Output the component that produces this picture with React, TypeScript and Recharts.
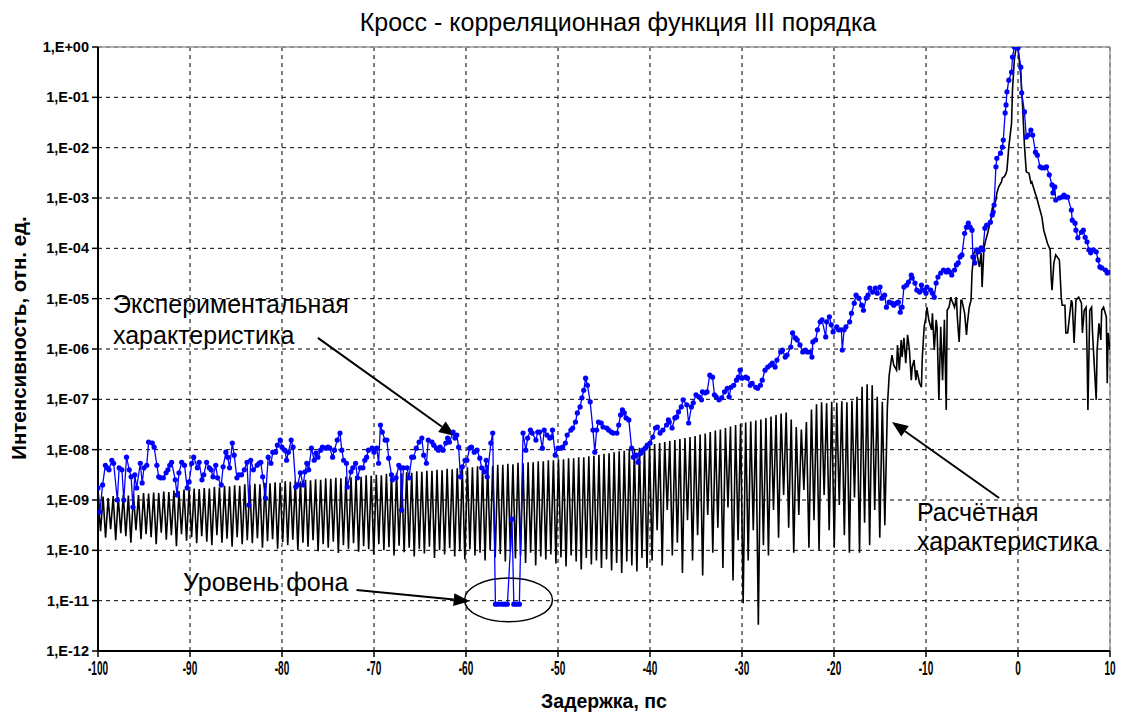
import {
  CartesianGrid,
  Line,
  LineChart,
  ReferenceArea,
  ReferenceLine,
  XAxis,
  YAxis
} from "recharts";

// experimental curve: [delay ps, log10 intensity]
const expPoints: [number, number][] = [
  [-100.0, -8.76], [-99.8, -9.24], [-99.5, -8.7], [-99.2, -8.31], [-99.0, -8.36], [-98.8, -8.4],
  [-98.5, -8.21], [-98.3, -8.27], [-97.9, -9.0], [-97.7, -8.36], [-97.4, -8.4], [-97.2, -9.0],
  [-96.9, -8.15], [-96.6, -8.4], [-96.4, -8.54], [-96.2, -9.14], [-96.0, -8.5], [-95.8, -8.76],
  [-95.4, -8.27], [-95.2, -8.66], [-95.0, -8.36], [-94.7, -8.31], [-94.5, -7.85], [-94.1, -7.87],
  [-93.9, -7.95], [-93.6, -8.31], [-93.4, -8.54], [-93.2, -8.56], [-92.9, -8.56], [-92.6, -8.46],
  [-92.4, -8.4], [-92.2, -8.31], [-92.0, -8.25], [-91.6, -8.6], [-91.4, -8.9], [-91.2, -8.46],
  [-90.9, -8.25], [-90.6, -8.31], [-90.3, -8.76], [-90.1, -8.64], [-89.8, -8.27], [-89.6, -8.15],
  [-89.2, -8.36], [-89.0, -8.25], [-88.7, -8.6], [-88.5, -8.5], [-88.2, -8.25], [-87.9, -8.36],
  [-87.7, -8.4], [-87.5, -8.54], [-87.2, -8.31], [-87.0, -8.56], [-86.6, -8.7], [-86.4, -8.34],
  [-86.1, -8.05], [-85.9, -8.15], [-85.7, -8.36], [-85.4, -7.87], [-85.2, -8.11], [-84.9, -8.56],
  [-84.7, -8.5], [-84.4, -8.5], [-84.1, -8.4], [-83.8, -8.25], [-83.6, -9.1], [-83.4, -8.21],
  [-83.1, -8.4], [-82.7, -8.31], [-82.5, -8.27], [-82.3, -8.25], [-82.1, -8.54], [-81.8, -8.96],
  [-81.5, -8.15], [-81.2, -8.27], [-81.0, -8.05], [-80.7, -8.05], [-80.5, -7.91], [-80.2, -7.81],
  [-80.0, -7.95], [-79.7, -8.01], [-79.5, -8.21], [-79.3, -8.05], [-79.0, -7.81], [-78.8, -7.95],
  [-78.5, -8.74], [-78.3, -8.7], [-78.0, -8.46], [-77.7, -8.7], [-77.5, -8.44], [-77.3, -8.27],
  [-77.1, -8.4], [-76.8, -7.97], [-76.5, -8.21], [-76.3, -8.07], [-76.1, -8.15], [-75.8, -8.01],
  [-75.6, -7.95], [-75.2, -7.97], [-75.0, -7.95], [-74.8, -7.97], [-74.5, -8.15], [-74.3, -8.01],
  [-74.0, -7.81], [-73.7, -7.67], [-73.5, -8.01], [-73.3, -8.21], [-73.0, -8.27], [-72.9, -8.74],
  [-72.5, -8.44], [-72.3, -8.36], [-72.0, -8.27], [-71.8, -8.56], [-71.5, -8.36], [-71.2, -8.36],
  [-71.0, -8.21], [-70.8, -8.15], [-70.6, -8.01], [-70.2, -7.97], [-70.0, -8.05], [-69.7, -7.97],
  [-69.5, -8.27], [-69.3, -7.51], [-69.1, -7.65], [-68.8, -7.81], [-68.6, -7.81], [-68.4, -8.17],
  [-68.1, -8.5], [-68.0, -8.6], [-67.6, -8.56], [-67.3, -8.31], [-67.1, -8.36], [-67.0, -9.2],
  [-66.8, -8.36], [-66.4, -8.36], [-66.2, -8.56], [-65.9, -8.15], [-65.7, -8.15], [-65.4, -7.97],
  [-65.1, -7.85], [-64.8, -7.77], [-64.6, -8.11], [-64.3, -8.27], [-64.1, -7.81], [-63.7, -7.85],
  [-63.5, -7.91], [-63.2, -7.97], [-63.0, -8.01], [-62.8, -7.95], [-62.5, -8.01], [-62.2, -7.87],
  [-62.0, -7.77], [-61.8, -7.85], [-61.4, -7.65], [-61.2, -7.77], [-61.0, -7.71], [-60.8, -7.95],
  [-60.6, -8.54], [-60.4, -8.34], [-60.1, -8.21], [-59.9, -8.21], [-59.6, -7.97], [-59.4, -7.95],
  [-59.1, -8.05], [-58.8, -8.01], [-58.5, -8.17], [-58.3, -8.36], [-58.0, -8.44], [-57.8, -8.21],
  [-57.7, -8.54], [-57.3, -7.87], [-57.1, -7.67],
  // background level
  [-56.8, -11.07], [-56.5, -11.07], [-56.1, -11.07], [-55.8, -11.07], [-55.5, -11.07],
  [-55.0, -9.38], [-54.8, -11.07], [-54.5, -11.07], [-54.2, -11.07],
  [-53.8, -7.67], [-53.5, -8.01], [-53.3, -7.77], [-53.0, -7.61], [-52.8, -7.67], [-52.4, -7.81],
  [-52.2, -7.65], [-52.0, -7.65], [-51.7, -7.97], [-51.5, -7.61], [-51.2, -7.71], [-50.9, -7.77],
  [-50.7, -7.75], [-50.6, -7.61], [-50.3, -8.11], [-50.0, -7.97], [-49.7, -7.97], [-49.5, -7.95],
  [-49.2, -7.87], [-49.0, -7.71], [-48.6, -7.61], [-48.4, -7.57], [-48.1, -7.45], [-47.9, -7.27],
  [-47.6, -7.15], [-47.4, -6.97], [-47.2, -6.82], [-47.0, -6.58], [-46.8, -6.72], [-46.5, -7.05],
  [-46.2, -7.61], [-46.0, -8.05], [-45.8, -7.61], [-45.6, -7.45], [-45.3, -7.47], [-45.1, -7.55],
  [-44.7, -7.57], [-44.5, -7.61], [-44.2, -7.65], [-44.0, -7.67], [-43.6, -7.67], [-43.4, -7.51],
  [-43.2, -7.31], [-43.0, -7.21], [-42.8, -7.27], [-42.6, -7.37], [-42.3, -7.41], [-42.0, -7.97],
  [-41.8, -8.15], [-41.5, -8.11], [-41.3, -8.25], [-41.0, -8.07], [-40.8, -8.01], [-40.5, -7.97],
  [-40.3, -7.91], [-40.0, -7.87], [-39.7, -7.75], [-39.4, -7.57], [-39.2, -7.55], [-38.9, -7.67],
  [-38.6, -7.61], [-38.2, -7.51], [-38.0, -7.41], [-37.9, -7.45], [-37.6, -7.57], [-37.3, -7.37],
  [-37.1, -7.35], [-36.9, -7.25], [-36.6, -7.15], [-36.4, -7.01], [-36.0, -7.11], [-35.8, -7.47],
  [-35.5, -7.15], [-35.3, -7.07], [-35.0, -6.91], [-34.7, -6.95], [-34.4, -7.01], [-34.3, -6.85],
  [-34.0, -6.87], [-33.8, -6.85], [-33.5, -6.52], [-33.2, -6.56], [-33.0, -6.91], [-32.8, -6.95],
  [-32.5, -7.01], [-32.2, -6.97], [-31.9, -6.85], [-31.6, -6.78], [-31.4, -6.95], [-31.2, -6.76],
  [-30.9, -6.72], [-30.6, -6.62], [-30.4, -6.56], [-30.2, -6.42], [-30.0, -6.58], [-29.6, -6.56],
  [-29.4, -6.58], [-29.1, -6.72], [-28.9, -6.68], [-28.5, -6.76], [-28.3, -6.78], [-28.0, -6.72],
  [-27.8, -6.62], [-27.5, -6.42], [-27.2, -6.36], [-26.9, -6.32], [-26.7, -6.28], [-26.4, -6.36],
  [-26.2, -6.22], [-25.8, -6.06], [-25.6, -6.02], [-25.3, -6.16], [-25.1, -6.12], [-24.7, -5.96],
  [-24.5, -5.68], [-24.2, -5.78], [-24.0, -5.82], [-23.7, -5.92], [-23.4, -6.06], [-23.1, -6.02],
  [-22.9, -6.06], [-22.6, -6.06], [-22.4, -6.16], [-22.3, -5.86], [-22.0, -5.82], [-21.8, -5.62],
  [-21.5, -5.46], [-21.3, -5.42], [-20.9, -5.76], [-20.8, -5.46], [-20.5, -5.36], [-20.3, -5.52],
  [-20.1, -5.66], [-19.7, -5.56], [-19.5, -5.62], [-19.2, -5.62], [-19.1, -6.02], [-18.9, -5.62],
  [-18.7, -5.56], [-18.3, -5.46], [-18.1, -5.29], [-17.8, -5.09], [-17.6, -4.93], [-17.3, -4.99],
  [-17.0, -5.13], [-16.8, -5.23], [-16.5, -4.99], [-16.3, -4.93], [-16.1, -4.79], [-15.8, -4.87],
  [-15.5, -4.79], [-15.3, -4.89], [-15.0, -4.77], [-14.8, -4.99], [-14.5, -4.93], [-14.3, -5.17],
  [-14.0, -5.07], [-13.7, -5.09], [-13.5, -5.13], [-13.2, -5.09], [-13.0, -5.07], [-12.8, -5.27],
  [-12.6, -5.17], [-12.4, -4.77], [-12.1, -4.73], [-11.9, -4.67], [-11.6, -4.53], [-11.5, -4.59],
  [-11.2, -4.69], [-11.0, -4.83], [-10.7, -4.87], [-10.5, -4.73], [-10.3, -4.83], [-10.0, -4.89],
  [-9.9, -4.77], [-9.5, -4.83], [-9.3, -4.89], [-9.1, -4.97], [-8.9, -4.69], [-8.7, -4.57],
  [-8.4, -4.49], [-8.1, -4.43], [-7.8, -4.47], [-7.6, -4.43], [-7.4, -4.47], [-7.2, -4.53],
  [-6.9, -4.43], [-6.7, -4.33], [-6.5, -4.29], [-6.3, -4.17], [-6.1, -4.13], [-5.8, -3.7],
  [-5.6, -3.58], [-5.4, -3.5], [-5.2, -3.58], [-5.0, -3.64], [-4.9, -4.17], [-4.7, -4.29],
  [-4.5, -4.03], [-4.3, -4.07], [-4.0, -3.99], [-3.8, -4.03], [-3.6, -3.6], [-3.4, -3.54],
  [-3.0, -3.48], [-2.8, -3.34], [-2.7, -3.28], [-2.6, -3.14], [-2.4, -2.38], [-2.3, -2.21],
  [-1.9, -2.11], [-1.7, -1.99], [-1.6, -1.85], [-1.4, -1.31], [-1.3, -1.15], [-1.2, -0.89],
  [-1.0, -0.66], [-0.7, -0.5], [-0.6, -0.2], [-0.4, 0.0], [-0.2, 0.0], [0.0, -0.02],
  [0.3, -0.4], [0.4, -0.91], [0.7, -1.29], [0.9, -1.79], [1.1, -1.75], [1.4, -1.65],
  [1.6, -1.75], [1.9, -2.09], [2.1, -2.15], [2.4, -2.38], [2.6, -2.4], [2.9, -2.4],
  [3.1, -2.38], [3.4, -2.54], [3.7, -2.74], [3.8, -2.9], [4.0, -2.78], [4.1, -3.04],
  [4.5, -3.0], [4.8, -2.98], [5.0, -2.94], [5.2, -2.98], [5.4, -2.98], [5.8, -3.24],
  [5.9, -3.44], [6.2, -3.5], [6.3, -3.64], [6.5, -3.79], [6.9, -3.68], [7.1, -3.64],
  [7.3, -3.78], [7.5, -3.87], [7.7, -4.03], [7.9, -4.09], [8.2, -4.03], [8.5, -4.07],
  [8.7, -4.23], [8.9, -4.37], [9.1, -4.39], [9.5, -4.43], [9.7, -4.49], [10.0, -4.47]
];

// calculated curve, fast oscillating part: one peak and one trough per period
const calcStart = -100;
const calcPeriod = 0.55;
const calcPeaks = [
  -8.95, -8.93, -8.96, -8.92, -8.94, -8.9, -8.91, -8.88, -8.9, -8.86,
  -8.87, -8.85, -8.86, -8.83, -8.84, -8.81, -8.82, -8.79, -8.8, -8.77,
  -8.78, -8.76, -8.77, -8.74, -8.75, -8.72, -8.73, -8.71, -8.72, -8.69,
  -8.7, -8.68, -8.69, -8.66, -8.67, -8.65, -8.66, -8.63, -8.64, -8.62,
  -8.63, -8.6, -8.61, -8.59, -8.6, -8.57, -8.58, -8.56, -8.57, -8.54,
  -8.55, -8.53, -8.54, -8.51, -8.52, -8.5, -8.51, -8.48, -8.49, -8.47,
  -8.47, -8.45, -8.46, -8.43, -8.44, -8.42, -8.42, -8.4, -8.41, -8.38,
  -8.39, -8.37, -8.37, -8.35, -8.35, -8.33, -8.34, -8.31, -8.32, -8.3,
  -8.3, -8.28, -8.29, -8.26, -8.27, -8.25, -8.25, -8.23, -8.23, -8.21,
  -8.21, -8.19, -8.19, -8.17, -8.17, -8.15, -8.15, -8.13, -8.12, -8.1,
  -8.08, -8.07, -8.05, -8.03, -8.02, -8.0, -7.98, -7.96, -7.93, -7.91,
  -7.89, -7.87, -7.85, -7.83, -7.81, -7.79, -7.77, -7.75, -7.73, -7.7,
  -7.68, -7.65, -7.62, -7.6, -7.57, -7.54, -7.51, -7.48, -7.46, -7.44,
  -7.42, -7.4, -7.37, -7.34, -7.31, -7.28, -7.26, -7.4, -7.55, -7.6,
  -7.45, -7.2, -7.1, -7.06, -7.08, -7.05, -7.07, -7.04, -7.06, -7.03,
  -6.95, -6.75, -6.7, -6.72, -6.95, -7.05, -7.15
];
const calcTroughs = [
  -9.62, -9.75, -9.58, -9.8, -9.66, -9.72, -9.85, -9.6, -9.78, -9.68,
  -9.74, -9.88, -9.65, -9.79, -9.7, -9.92, -9.68, -9.81, -9.74, -9.86,
  -9.72, -9.83, -9.9, -9.7, -9.85, -9.77, -9.93, -9.74, -9.88, -9.8,
  -9.86, -9.76, -9.95, -9.82, -9.78, -9.97, -9.84, -9.9, -9.79, -10.0,
  -9.85, -9.93, -9.8, -10.02, -9.88, -9.95, -9.83, -10.05, -9.9, -9.97,
  -9.86, -10.03, -9.92, -9.98, -10.08, -9.88, -10.0, -9.94, -10.1, -9.91,
  -10.04, -9.95, -10.12, -9.97, -10.06, -9.93, -10.15, -10.0, -10.08, -9.96,
  -10.12, -10.02, -10.18, -9.98, -10.1, -10.05, -10.2, -10.0, -10.14, -10.07,
  -10.22, -10.03, -10.16, -10.1, -10.25, -10.05, -10.3, -10.12, -10.18, -10.08,
  -10.26, -10.14, -10.32, -10.1, -10.22, -10.38, -10.15, -10.28, -10.2, -10.35,
  -10.18, -10.4, -10.25, -10.45, -10.22, -10.3, -10.42, -10.15, -10.35, -10.2,
  -9.6, -10.3, -9.2, -10.1, -9.85, -10.45, -9.4, -10.2, -9.7, -10.5,
  -9.3, -10.05, -9.55, -10.35, -9.15, -10.6, -9.8, -11.05, -10.2, -9.6,
  -11.48, -9.9, -10.1, -9.2, -9.75, -8.9, -9.55, -10.05, -9.3, -8.8,
  -9.95, -9.4, -10.0, -8.9, -9.6, -9.95, -9.1, -9.7, -10.05, -8.95,
  -10.05, -9.45, -9.9, -9.2, -9.75, -9.5
];

// calculated curve near zero delay: [delay ps, log10 intensity]
const calcTail: [number, number][] = [
  [-14.0, -6.52], [-13.7, -6.12], [-13.5, -6.32], [-13.2, -6.42], [-13.1, -5.92], [-12.9, -6.42],
  [-12.7, -5.82], [-12.6, -6.16], [-12.4, -5.78], [-12.2, -6.28], [-12.0, -5.72], [-11.8, -6.02],
  [-11.6, -6.62], [-11.5, -6.36], [-11.3, -6.22], [-11.1, -6.62], [-11.0, -6.42], [-10.7, -6.68],
  [-10.5, -6.76], [-10.4, -6.16], [-10.2, -5.56], [-10.0, -5.36], [-9.9, -5.17], [-9.7, -5.42],
  [-9.4, -5.62], [-9.3, -5.29], [-9.1, -6.02], [-8.9, -5.42], [-8.8, -5.56], [-8.6, -7.01],
  [-8.4, -5.56], [-8.2, -6.62], [-8.0, -5.42], [-7.8, -7.21], [-7.7, -5.23], [-7.5, -5.17],
  [-7.3, -4.97], [-7.2, -5.03], [-6.9, -5.17], [-6.7, -4.97], [-6.6, -5.36], [-6.4, -5.86],
  [-6.2, -5.03], [-6.1, -5.03], [-5.8, -5.29], [-5.6, -5.72], [-5.5, -5.49], [-5.3, -5.17],
  [-5.1, -5.03], [-5.0, -4.49], [-4.8, -4.09], [-4.5, -4.03], [-4.4, -4.17], [-4.2, -4.37],
  [-4.0, -4.09], [-3.9, -4.77], [-3.7, -3.99], [-3.5, -3.83], [-3.3, -3.7], [-3.1, -3.54],
  [-2.9, -3.38], [-2.8, -3.2], [-2.6, -3.14], [-2.4, -3.04], [-2.3, -2.9], [-2.1, -2.78],
  [-1.8, -2.68], [-1.7, -2.6], [-1.5, -2.58], [-1.3, -2.51], [-1.2, -2.44], [-1.0, -1.99],
  [-0.7, -1.51], [-0.6, -0.85], [-0.4, -0.26], [-0.2, 0.0], [0.0, -0.06], [0.1, -0.2],
  [0.3, -0.56], [0.45, -0.99], [0.7, -1.95], [0.9, -2.48], [1.2, -2.51], [1.4, -2.7],
  [1.5, -2.68], [1.7, -2.8], [2.1, -3.04], [2.3, -3.18], [2.6, -3.38], [2.8, -3.64],
  [3.2, -3.9], [3.5, -4.03], [3.6, -4.57], [3.7, -4.83], [3.9, -4.29], [4.1, -4.13],
  [4.5, -4.23], [4.7, -4.97], [4.8, -5.13], [5.1, -5.13], [5.2, -5.68], [5.4, -5.68],
  [5.8, -5.03], [5.9, -5.09], [6.1, -5.88], [6.3, -5.03], [6.6, -4.97], [6.9, -5.09],
  [7.0, -5.68], [7.2, -5.23], [7.4, -5.17], [7.5, -6.02], [7.6, -7.21], [7.8, -5.23],
  [8.0, -5.17], [8.1, -5.68], [8.5, -7.01], [8.6, -6.02], [8.8, -5.49], [9.0, -5.82],
  [9.1, -5.23], [9.3, -5.17], [9.6, -5.36], [9.7, -6.68], [9.8, -5.68], [10.0, -6.02]
];

const xTicks = [-100, -90, -80, -70, -60, -50, -40, -30, -20, -10, 0, 10];
const yExponents = [0, -1, -2, -3, -4, -5, -6, -7, -8, -9, -10, -11, -12];

const expData = expPoints.map(([x, e]) => ({ x, y: 10 ** e }));
const calcData: { x: number; y: number }[] = [];
calcPeaks.forEach((p, i) => {
  calcData.push({ x: calcStart + i * calcPeriod, y: 10 ** p });
  if (i < calcTroughs.length) {
    calcData.push({ x: calcStart + (i + 0.5) * calcPeriod, y: 10 ** calcTroughs[i] });
  }
});
calcTail.forEach(([x, e]) => calcData.push({ x, y: 10 ** e }));

const yTicks = yExponents.map((e) => 10 ** e);
const formatY = (v: number) => {
  const e = Math.round(Math.log10(v));
  return `1,E${e < 0 ? "-" : "+"}${String(Math.abs(e)).padStart(2, "0")}`;
};

const font = "'Liberation Sans', Arial, sans-serif";

// narrow bold labels under the x axis
function XTick(props: any) {
  const { x, y, payload } = props;
  return (
    <text
      transform={`translate(${x},${y}) scale(0.5,1)`}
      textAnchor="middle"
      dy="0.72em"
      fontSize={20}
      fontWeight={700}
      fontFamily={font}
      fill="#000"
    >
      {payload.value}
    </text>
  );
}

function Arrow(props: any) {
  const { x1, y1, x2, y2 } = props;
  const a = Math.atan2(y2 - y1, x2 - x1);
  const len = 16;
  const w = 6.5;
  const bx = x2 - len * Math.cos(a);
  const by = y2 - len * Math.sin(a);
  const px = -Math.sin(a) * w;
  const py = Math.cos(a) * w;
  return (
    <g>
      <line x1={x1} y1={y1} x2={bx} y2={by} stroke="#000" strokeWidth={2} />
      <polygon points={`${x2},${y2} ${bx + px},${by + py} ${bx - px},${by - py}`} fill="#000" />
    </g>
  );
}

function Ellipse(props: any) {
  const { x, y, width, height } = props;
  return (
    <ellipse
      cx={x + width / 2}
      cy={y + height / 2}
      rx={width / 2}
      ry={height / 2}
      fill="none"
      stroke="#000"
      strokeWidth={1.5}
    />
  );
}

const textStyle = { position: "absolute" as const, fontFamily: font, color: "#000", lineHeight: 1, whiteSpace: "nowrap" as const };

export default function App() {
  return (
    <div style={{ position: "absolute", left: 0, top: 0, width: 1123, height: 715, background: "#fff" }}>
      <LineChart
        width={1123}
        height={715}
        margin={{ top: 47, right: 13, left: 0, bottom: 34 }}
      >
        <CartesianGrid stroke="#000" strokeDasharray="4 4" strokeWidth={1} />
        <XAxis
          dataKey="x"
          type="number"
          domain={[-100, 10]}
          ticks={xTicks}
          allowDataOverflow
          height={30}
          tickSize={6}
          tickMargin={4}
          axisLine={{ stroke: "#000", strokeWidth: 2 }}
          tickLine={{ stroke: "#000", strokeWidth: 1.5 }}
          tick={<XTick />}
        />
        <YAxis
          dataKey="y"
          type="number"
          scale="log"
          domain={[1e-12, 1]}
          ticks={yTicks}
          allowDataOverflow
          width={98}
          tickSize={6}
          tickMargin={3}
          tickFormatter={formatY}
          axisLine={{ stroke: "#000", strokeWidth: 2 }}
          tickLine={{ stroke: "#000", strokeWidth: 1.5 }}
          tick={{ fill: "#000", fontSize: 14.5, fontWeight: 700, fontFamily: font }}
        />
        <ReferenceLine y={1} stroke="#999" strokeWidth={1.5} />
        <ReferenceLine x={10} stroke="#999" strokeWidth={1.5} />
        <Line
          data={calcData}
          dataKey="y"
          type="linear"
          stroke="#000"
          strokeWidth={1.6}
          dot={false}
          isAnimationActive={false}
        />
        <Line
          data={expData}
          dataKey="y"
          type="linear"
          stroke="#0000ff"
          strokeWidth={1.3}
          dot={{ r: 2.6, fill: "#0000ff", stroke: "none" }}
          isAnimationActive={false}
        />
        <ReferenceLine
          segment={[{ x: -76.1, y: 10 ** -5.78 }, { x: -61.2, y: 10 ** -7.73 }]}
          shape={Arrow}
        />
        <ReferenceLine
          segment={[{ x: -2.05, y: 10 ** -8.96 }, { x: -13.7, y: 10 ** -7.45 }]}
          shape={Arrow}
        />
        <ReferenceLine
          segment={[{ x: -71.9, y: 10 ** -10.79 }, { x: -59.6, y: 10 ** -11.01 }]}
          shape={Arrow}
        />
        <ReferenceArea
          x1={-60.15}
          x2={-50.6}
          y1={10 ** -11.42}
          y2={10 ** -10.55}
          shape={Ellipse}
        />
      </LineChart>
      <div style={{ ...textStyle, left: 618, top: 22, fontSize: 25, transform: "translate(-50%, -50%)" }}>
        Кросс - корреляционная функция III порядка
      </div>
      <div
        style={{
          ...textStyle,
          left: 19,
          top: 338,
          fontSize: 20.5,
          fontWeight: 700,
          transform: "translate(-50%, -50%) rotate(-90deg)"
        }}
      >
        Интенсивность, отн. ед.
      </div>
      <div style={{ ...textStyle, left: 604, top: 702, fontSize: 19.5, fontWeight: 700, transform: "translate(-50%, -50%)" }}>
        Задержка, пс
      </div>
      <div style={{ ...textStyle, left: 113, top: 292, fontSize: 25 }}>Экспериментальная</div>
      <div style={{ ...textStyle, left: 113, top: 323, fontSize: 25 }}>характеристика</div>
      <div style={{ ...textStyle, left: 917, top: 500, fontSize: 25 }}>Расчётная</div>
      <div style={{ ...textStyle, left: 917, top: 529, fontSize: 25 }}>характеристика</div>
      <div style={{ ...textStyle, left: 183, top: 570, fontSize: 25 }}>Уровень фона</div>
    </div>
  );
}
